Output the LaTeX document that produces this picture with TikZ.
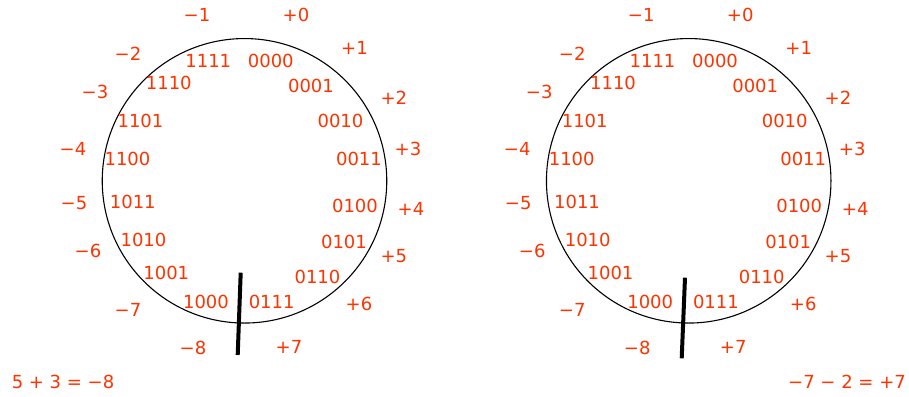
\documentclass[tikz,border=0pt]{standalone}
\usepackage{fontspec}
\setmainfont{DejaVu Sans}
\definecolor{lbl}{RGB}{255,51,0}
\begin{document}
\begin{tikzpicture}[x=1pt,y=-1pt,
  lab/.style={text=lbl,font=\fontsize{18}{21}\selectfont,inner sep=0pt,anchor=center},
  ring/.style={draw=black,line width=1.1pt},
  cut/.style={draw=black,line width=4pt}]
\useasboundingbox (0,0) rectangle (909,396);
% ---------- left wheel ----------
\begin{scope}
\node[ring,circle,minimum size=284.5pt,inner sep=0pt] (Lc) at (244.5,180.8) {};
\foreach \t/\x/\y/\n in {1111/208.3/60.5/a,0000/270.8/60.5/b,0001/311/85.5/c,0010/340.5/120.5/d,0011/359/159/e,0100/355/205.5/f,0101/344/241.5/g,0110/317.5/276.5/h,0111/271.7/301.5/i,1000/206/301.5/j,1001/166.3/272.5/k,1010/143.5/239.5/l,1011/132.8/201.5/m,1100/127.5/159/n,1101/140.5/120.5/o,1110/168.8/82.5/p}
  \node[lab] (L\n) at (\x,\y) {\t};
\foreach \t/\x/\y/\n in {−1/197/15/a,+0/296/15/b,+1/354.5/48/c,+2/393.8/98/d,+3/408/149/e,+4/411/209/f,+5/393.8/256.5/g,+6/359/304/h,+7/289/346.5/i,−8/193/348/j,−7/128/309.5/k,−6/88/251/l,−5/74/203/m,−4/73/149/n,−3/95/92/o,−2/128/54/p}
  \node[lab] (LO\n) at (\x,\y) {\t};
\coordinate (Lt) at (240.7,272.7);
\coordinate (Lb) at (237.7,355);
\draw[cut] (Lt) -- (Lb);
\node[lab] (Leq) at (63,382) {5 + 3 = −8};
\end{scope}
% ---------- right wheel ----------
\begin{scope}[xshift=444.2pt]
\node[ring,circle,minimum size=284.5pt,inner sep=0pt] (Rc) at (244.5,180.8) {};
\foreach \t/\x/\y/\n in {1111/208.3/60.5/a,0000/270.8/60.5/b,0001/311/85.5/c,0010/340.5/120.5/d,0011/359/159/e,0100/355/205.5/f,0101/344/241.5/g,0110/317.5/276.5/h,0111/271.7/301.5/i,1000/206/301.5/j,1001/166.3/272.5/k,1010/143.5/239.5/l,1011/132.8/201.5/m,1100/127.5/159/n,1101/140.5/120.5/o,1110/168.8/82.5/p}
  \node[lab] (R\n) at (\x,\y) {\t};
\foreach \t/\x/\y/\n in {−1/197/15/a,+0/296/15/b,+1/354.5/48/c,+2/393.8/98/d,+3/408/149/e,+4/411/209/f,+5/393.8/256.5/g,+6/359/304/h,+7/289/346.5/i,−8/193/348/j,−7/128/309.5/k,−6/88/251/l,−5/74/203/m,−4/73/149/n,−3/95/92/o,−2/128/54/p}
  \node[lab] (RO\n) at (\x,\y) {\t};
\coordinate (Rt) at (240.8,277.7);
\coordinate (Rb) at (237.5,358.3);
\draw[cut] (Rt) -- (Rb);
\end{scope}
\node[lab] (Req) at (847,382) {−7 − 2 = +7};
\end{tikzpicture}
\end{document}
